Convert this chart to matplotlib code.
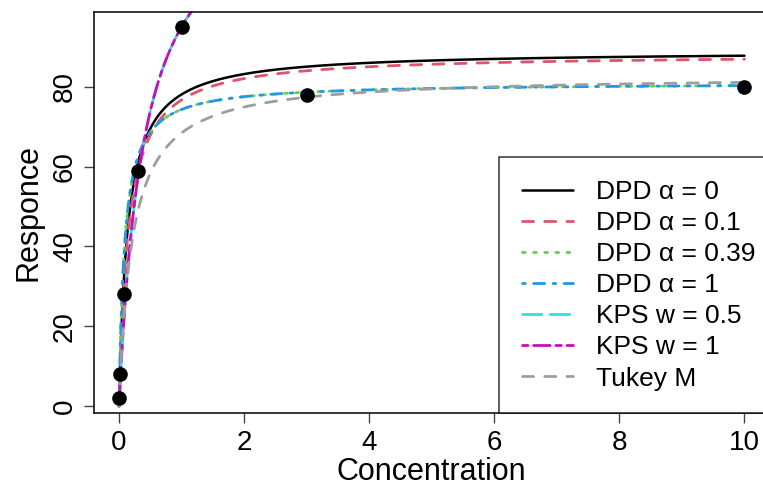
import numpy as np
import matplotlib
matplotlib.use("Agg")
import matplotlib.pyplot as plt

plt.rcParams['font.family'] = ['Liberation Sans', 'DejaVu Sans']

# observed data
conc = [0.0, 0.01, 0.08, 0.3, 1.0, 3.0, 10.0]
resp = [2.0, 8.0, 28.0, 59.0, 95.0, 78.0, 80.0]

# fitted Michaelis-Menten curves: y = Vmax * x / (K + x)
labels = ["DPD \u03b1 = 0", "DPD \u03b1 = 0.1", "DPD \u03b1 = 0.39", "DPD \u03b1 = 1",
          "KPS w = 0.5", "KPS w = 1", "Tukey M"]
vmax = [89.0, 88.2, 81.0, 81.0, 133.0, 133.0, 82.8]
kval = [0.14, 0.15, 0.09, 0.09, 0.40, 0.40, 0.21]
colors = ["black", "#DF536B", "#61D04F", "#2297E6", "#28E2E5", "#CD0BBC", "#9E9E9E"]
styles = ["-", (0, (4, 4)), (0, (1, 3)), (0, (1, 3, 4, 3)), (0, (7, 3)), (0, (2, 2, 6, 2)), (0, (4, 4))]
widths = [1.8, 2, 2, 2, 2, 2, 2]

fig = plt.figure(figsize=(7.63, 4.86), dpi=100)
ax = fig.add_axes([94/763, 1-413/486, (769.5-94)/763, (413-12)/486])

xg = np.linspace(0, 10, 1001)
for lab, v, k, c, ls, w in zip(labels, vmax, kval, colors, styles, widths):
    ax.plot(xg, v*xg/(k+xg), color=c, ls=ls, lw=w, label=lab,
            dash_capstyle='round', solid_capstyle='round')

ax.plot(conc, resp, 'o', color='black', ms=9.5, zorder=5)

ax.set_xlim(-0.4, 10.4)
ax.set_ylim(-1.72, 98.72)
ax.set_xticks([0, 2, 4, 6, 8, 10])
ax.set_yticks([0, 20, 40, 60, 80])
ax.tick_params(labelsize=20, length=7, width=1, color='#444444')
ax.tick_params(axis='x', pad=5.5)
ax.tick_params(axis='y', pad=4.5)
for t in ax.get_yticklabels():
    t.set_rotation(90)
    t.set_va('center')
for s in ax.spines.values():
    s.set_linewidth(1.1)
    s.set_color('black')

ax.set_xlabel("Concentration", fontsize=22, labelpad=0.5)
ax.set_ylabel("Responce", fontsize=22, labelpad=6)

leg = ax.legend(loc='lower right', bbox_to_anchor=(1 + 8/675.5, 0),
                fontsize=19, frameon=True, fancybox=False,
                edgecolor='black', borderaxespad=0, handlelength=1.93,
                handletextpad=0.87, labelspacing=0.27, borderpad=0.85)
leg.get_frame().set_linewidth(1.1)

fig.savefig("out.png", dpi=100)
